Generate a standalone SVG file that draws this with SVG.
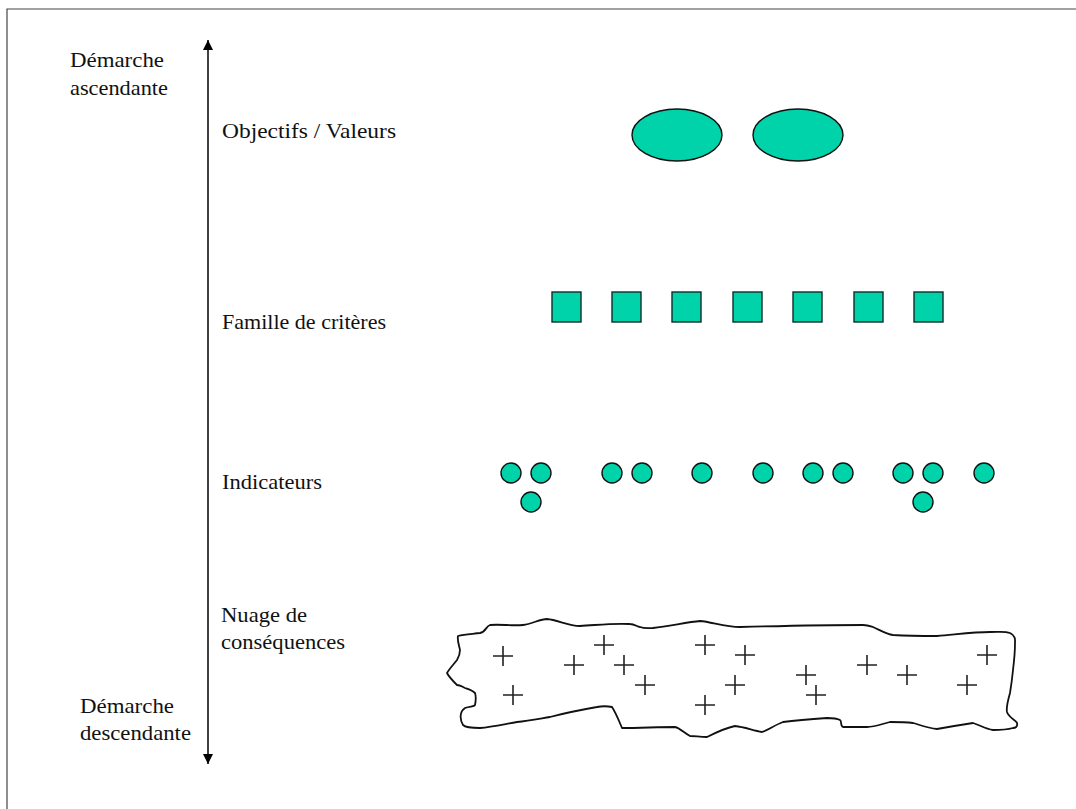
<svg xmlns="http://www.w3.org/2000/svg" width="1076" height="809" viewBox="0 0 1076 809">
<style>
.lbl{font-family:"Liberation Serif","Times New Roman",serif;font-size:21.5px;fill:#111}
.ell,.sq,.dot{fill:#00D2AA;stroke:#111;stroke-width:1.4}
.sq{stroke:#0d2e28}
.plus{stroke:#222;stroke-width:1.6;fill:none}
.cloud{fill:#fff;stroke:#111;stroke-width:1.8;stroke-linejoin:round}
</style>
<defs>
<marker id="ah" viewBox="0 0 10 10" refX="10" refY="5" markerWidth="10" markerHeight="10" markerUnits="userSpaceOnUse" orient="auto">
<path d="M0,0 L10,5 L0,10 Z" fill="#000"/>
</marker>
<g id="p"><path class="plus" d="M-10,0H10M0,-10V10"/></g>
</defs>
<rect width="1076" height="809" fill="#fff"/>
<path d="M7,809 V9 H1076" fill="none" stroke="#444" stroke-width="1.2"/>

<g id="connectors">
<line x1="208" y1="400" x2="208" y2="40" stroke="#000" stroke-width="1.5" marker-end="url(#ah)"/>
<line x1="208" y1="400" x2="208" y2="764" stroke="#000" stroke-width="1.5" marker-end="url(#ah)"/>
</g>

<g id="labels" font-family="Liberation Serif, serif">
<text class="lbl" x="70" y="67" textLength="94" lengthAdjust="spacingAndGlyphs">Démarche</text>
<text class="lbl" x="70" y="95" textLength="98" lengthAdjust="spacingAndGlyphs">ascendante</text>
<text class="lbl" x="222" y="138" textLength="174" lengthAdjust="spacingAndGlyphs">Objectifs / Valeurs</text>
<text class="lbl" x="222" y="329" textLength="164" lengthAdjust="spacingAndGlyphs">Famille de critères</text>
<text class="lbl" x="222" y="489" textLength="100" lengthAdjust="spacingAndGlyphs">Indicateurs</text>
<text class="lbl" x="221" y="622" textLength="86" lengthAdjust="spacingAndGlyphs">Nuage de</text>
<text class="lbl" x="221" y="649" textLength="124" lengthAdjust="spacingAndGlyphs">conséquences</text>
<text class="lbl" x="80" y="713" textLength="94" lengthAdjust="spacingAndGlyphs">Démarche</text>
<text class="lbl" x="80" y="740" textLength="111" lengthAdjust="spacingAndGlyphs">descendante</text>
</g>

<g id="objectifs">
<ellipse class="ell" cx="677" cy="135" rx="45" ry="26"/>
<ellipse class="ell" cx="798" cy="135" rx="45" ry="26"/>
</g>

<g id="criteres">
<rect class="sq" x="552" y="292" width="29" height="30"/>
<rect class="sq" x="612" y="292" width="29" height="30"/>
<rect class="sq" x="672" y="292" width="29" height="30"/>
<rect class="sq" x="733" y="292" width="29" height="30"/>
<rect class="sq" x="793" y="292" width="29" height="30"/>
<rect class="sq" x="854" y="292" width="29" height="30"/>
<rect class="sq" x="914" y="292" width="29" height="30"/>
</g>

<g id="indicateurs">
<circle class="dot" cx="511" cy="473" r="10"/>
<circle class="dot" cx="541" cy="473" r="10"/>
<circle class="dot" cx="531" cy="502" r="10"/>
<circle class="dot" cx="612" cy="473" r="10"/>
<circle class="dot" cx="642" cy="473" r="10"/>
<circle class="dot" cx="702" cy="473" r="10"/>
<circle class="dot" cx="763" cy="473" r="10"/>
<circle class="dot" cx="813" cy="473" r="10"/>
<circle class="dot" cx="843" cy="473" r="10"/>
<circle class="dot" cx="903" cy="473" r="10"/>
<circle class="dot" cx="933" cy="473" r="10"/>
<circle class="dot" cx="923" cy="502" r="10"/>
<circle class="dot" cx="984" cy="473" r="10"/>
</g>

<g id="nuage">
<path class="cloud" d="M480,633 C486,632 486,626 490,625 C500,624 512,626 523,625 C532,624 540,619 547,619 C558,620 568,626 580,626 C598,625 612,623 630,624 C635,624 637,627 640,627 C645,629 650,628 653,628 C670,626 688,622 700,621 C712,622 725,627 740,627 C780,626 830,625 863,625 C868,625 870,626 873,627 C880,630 886,634 893,635 C910,636 925,636 937,636 C960,634 975,632 990,632 C1000,632 1005,631 1010,633 C1016,636 1015,640 1015,643 C1015,652 1014,662 1013,670 C1012,680 1011,687 1010,693 C1008,700 1006,707 1007,712 C1009,718 1016,720 1017,723 C1018,727 1015,728 1013,728 C1006,730 1000,730 993,730 C985,729 980,725 973,723 C960,725 948,727 937,729 C928,728 920,725 913,723 C905,722 897,722 890,722 C882,724 874,727 867,727 C858,727 850,727 843,727 C840,726 842,721 840,720 C836,718 831,718 827,718 C812,719 798,720 783,722 C775,725 768,730 762,732 C752,730 744,727 735,726 C725,728 715,733 707,737 C700,737 695,736 690,736 C684,733 680,728 675,727 C658,727 640,728 622,728 C619,721 616,713 612,707 C607,706 602,706 597,707 C580,710 565,713 550,717 C538,719 528,721 517,722 C505,724 492,727 480,728 C472,728 465,727 463,725 C460,720 459,712 465,708 C470,706 474,707 475,705 C476,700 476,696 475,693 C472,690 468,689 465,688 C461,686 460,685 457,685 C453,681 449,677 447,673 C450,668 454,664 457,660 C460,655 460,652 460,650 C459,645 457,640 458,636 C465,634 473,634 480,633 Z"/>
<use href="#p" x="503" y="656"/>
<use href="#p" x="513" y="695"/>
<use href="#p" x="574" y="665"/>
<use href="#p" x="604" y="645"/>
<use href="#p" x="624" y="665"/>
<use href="#p" x="645" y="685"/>
<use href="#p" x="705" y="645"/>
<use href="#p" x="705" y="705"/>
<use href="#p" x="745" y="655"/>
<use href="#p" x="735" y="685"/>
<use href="#p" x="806" y="675"/>
<use href="#p" x="816" y="695"/>
<use href="#p" x="867" y="665"/>
<use href="#p" x="907" y="675"/>
<use href="#p" x="967" y="685"/>
<use href="#p" x="987" y="655"/>
</g>
</svg>
